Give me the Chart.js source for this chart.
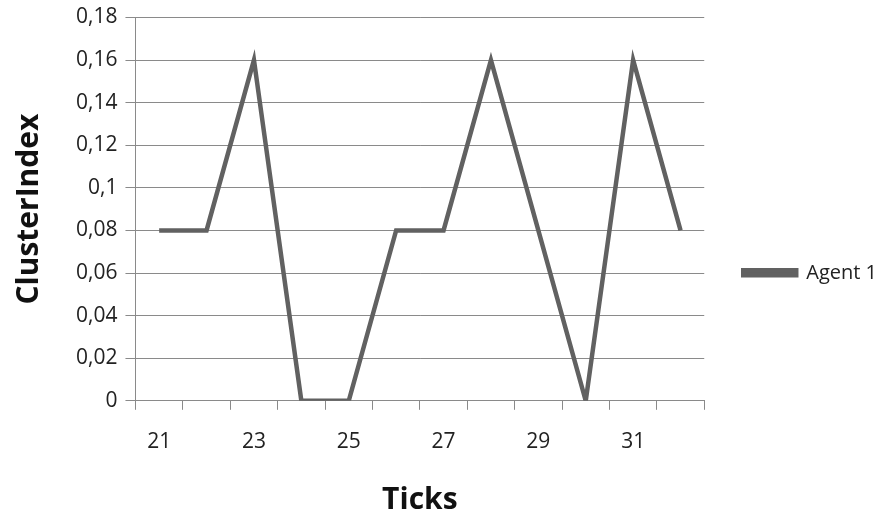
<!DOCTYPE html>
<html>
<head>
<meta charset="utf-8">
<script src="https://cdn.jsdelivr.net/npm/chart.js@4/dist/chart.umd.min.js"></script>
<style>
  html, body { margin: 0; padding: 0; background: #fff; }
  #wrap { width: 887px; height: 519px; }
</style>
</head>
<body>
<div id="wrap"><canvas id="chart"></canvas></div>
<script>
const ticks = ['21', '22', '23', '24', '25', '26', '27', '28', '29', '30', '31', '32'];
const agent1 = [0.08, 0.08, 0.16, 0, 0, 0.08, 0.08, 0.16, 0.08, 0, 0.16, 0.08];

const lineColor = '#616161';
const gridColor = '#8a8a8a';
const font = '"Open Sans", "Liberation Sans", sans-serif';

const fmt = v => parseFloat(v.toFixed(2)).toString().replace('.', ',');

new Chart(document.getElementById('chart'), {
  type: 'line',
  data: {
    labels: ticks,
    datasets: [{
      label: 'Agent 1',
      data: agent1,
      borderColor: lineColor,
      backgroundColor: lineColor,
      borderWidth: 4.5,
      pointRadius: 0,
      tension: 0
    }]
  },
  options: {
    responsive: true,
    maintainAspectRatio: false,
    animation: false,
    layout: { padding: { top: 0, right: 0, bottom: 1, left: 4 } },
    scales: {
      x: {
        offset: true,
        grid: {
          offset: true,
          drawOnChartArea: false,
          color: gridColor,
          tickLength: 9
        },
        border: { color: gridColor },
        ticks: {
          autoSkip: false,
          maxRotation: 0,
          color: '#222',
          font: { family: font, size: 21 },
          padding: 20,
          callback: (v, i) => i % 2 === 0 ? ticks[i] : ''
        },
        title: {
          display: true,
          text: 'Ticks',
          color: '#111',
          font: { family: font, size: 30, weight: 'bold' },
          padding: { top: 7, bottom: 0 }
        }
      },
      y: {
        min: 0,
        max: 0.18,
        ticks: {
          stepSize: 0.02,
          color: '#222',
          font: { family: font, size: 21, lineHeight: 0.9 },
          padding: 8,
          callback: v => fmt(v)
        },
        grid: { color: gridColor, tickLength: 10 },
        border: { color: gridColor },
        title: {
          display: true,
          text: 'ClusterIndex',
          color: '#111',
          font: { family: font, size: 30, weight: 'bold' },
          padding: { top: 7, bottom: 21 }
        }
      }
    },
    plugins: {
      legend: {
        position: 'right',
        title: { display: true, text: ' ', font: { size: 23 }, padding: 0 },
        labels: {
          boxWidth: 53,
          boxHeight: 5,
          padding: 39,
          color: '#222',
          font: { family: font, size: 20 }
        }
      },
      tooltip: { enabled: false }
    }
  }
});
</script>
</body>
</html>
